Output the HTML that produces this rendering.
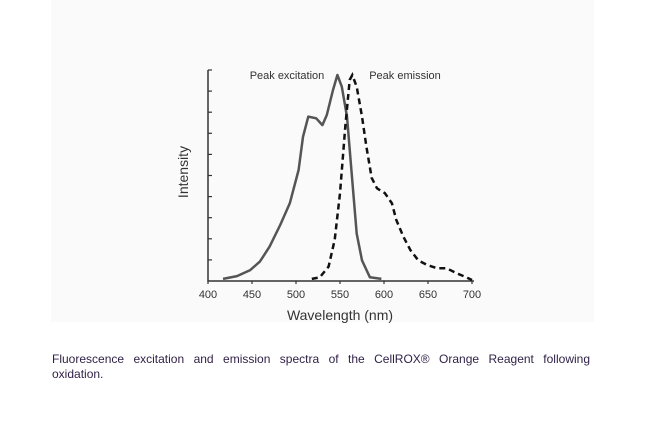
<!DOCTYPE html>
<html><head><meta charset="utf-8"><style>
html,body{margin:0;padding:0;background:#fff;width:672px;height:447px;overflow:hidden;font-family:"Liberation Sans",Arial,sans-serif}
#panel{position:absolute;left:51px;top:0;width:543px;height:322px;background:#fafafa}
#cap{position:absolute;left:52px;top:352px;width:538px;font-size:12px;line-height:15px;color:#2e1f45}
#cap .l1{text-align:justify;text-align-last:justify}
svg{position:absolute;left:0;top:0}
</style></head><body>
<div id="panel"></div>
<svg width="672" height="447">
<g id="axes"></g><g id="series"></g>
<text x="287" y="79" font-size="11" fill="#333" text-anchor="middle">Peak excitation</text>
<text x="405" y="79" font-size="11" fill="#333" text-anchor="middle">Peak emission</text>
<text x="0" y="0" font-size="14" fill="#333" text-anchor="middle" transform="translate(188,172) rotate(-90)">Intensity</text>
<text x="340" y="320" font-size="14" fill="#333" text-anchor="middle">Wavelength (nm)</text>
</svg>
<div id="cap"><div class="l1">Fluorescence excitation and emission spectra of the CellROX® Orange Reagent following</div><div>oxidation.</div></div>
<script>
const xTicks=[400,450,500,550,600,650,700];
const excWl=[417,433,448,459,470,482,493,503,508,514,523,530,535,542,547,552,558,563,569,575,584,597];
const excI=[0.01,0.024,0.053,0.094,0.167,0.272,0.377,0.539,0.70,0.798,0.79,0.757,0.806,0.927,1.0,0.943,0.798,0.539,0.23,0.10,0.018,0.01];
const emWl=[518,527,537,544,550,556,561,564,569,575,580,586,592,601,609,614,622,630,639,649,660,671,683,692,700];
const emI=[0.01,0.018,0.07,0.2,0.426,0.75,0.976,1.0,0.943,0.798,0.652,0.5,0.45,0.426,0.377,0.296,0.215,0.15,0.10,0.078,0.062,0.062,0.037,0.021,0.005];
const NS='http://www.w3.org/2000/svg';
const X=w=>208+(w-400)*0.88, Y=v=>281-v*206;
const axes=document.getElementById('axes'), ser=document.getElementById('series');
function mk(tag,attrs,parent){const e=document.createElementNS(NS,tag);for(const k in attrs)e.setAttribute(k,attrs[k]);parent.appendChild(e);return e;}
let a=mk('path',{d:'M208,70 V281 H474',stroke:'#333','stroke-width':1.5,fill:'none'},axes);


for(let i=1;i<=10;i++){const y=281-i*21.1;let t=mk('line',{x1:208,x2:212,y1:y,y2:y,stroke:'#333','stroke-width':1.2},axes);

}
xTicks.forEach(v=>{let t=mk('line',{x1:X(v),x2:X(v),y1:281,y2:284,stroke:'#333','stroke-width':1.2},axes);


let l=mk('text',{x:X(v),y:298,'font-size':11,fill:'#333','text-anchor':'middle'},axes);l.textContent=v;

});
function line(ws,is){return ws.map((w,i)=>(i?'L':'M')+X(w).toFixed(1)+','+Y(is[i]).toFixed(1)).join(' ');}
let e1=mk('path',{d:line(excWl,excI),stroke:'#555','stroke-width':2.5,fill:'none','stroke-linejoin':'round'},ser);


let e2=mk('path',{d:line(emWl,emI),stroke:'#111','stroke-width':2.5,fill:'none','stroke-dasharray':'6 4'},ser);


</script>
</body></html>
